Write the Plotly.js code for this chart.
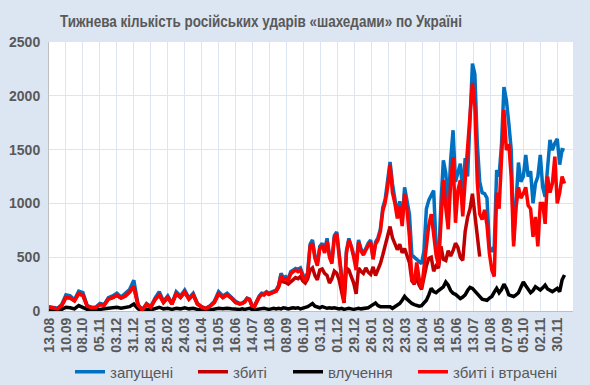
<!DOCTYPE html>
<html><head><meta charset="utf-8">
<script src="https://cdn.plot.ly/plotly-3.0.1.min.js"></script>
<style>html,body{margin:0;padding:0;background:#dce6f2;}</style>
</head><body><div id="chart" style="width:590px;height:385px;"></div>
<script>
// Day offsets from 13.08.2023 (weekly samples, then every 4 days)
const dayOffsets = [];
for (let d = 0; d <= 315; d += 7) dayOffsets.push(d);
for (let d = 319; d <= 851; d += 4) dayOffsets.push(d);

const tickLabels = ['13.08','10.09','08.10','05.11','03.12','31.12','28.01','25.02','24.03','21.04','19.05','16.06','14.07','11.08','08.09','06.10','03.11','01.12','29.12','26.01','23.02','23.03','20.04','18.05','15.06','13.07','10.08','07.09','05.10','02.11','30.11'];

const launched = [
 40,35,25,60,150,140,105,185,170,50, 35,35,70,60,125,140,165,130,160,200,
 285,60,10,70,40,120,180,90,140,70, 180,140,195,120,165,70,40,25,50,90,
 180,140,165,130,90,70,
 75,90,120,110,55,45,100,140,165,160,
 180,165,175,185,195,240,350,310,320,300,
 365,380,395,385,400,340,300,360,620,660,
 510,440,600,630,560,675,520,460,700,735,
 560,330,140,560,675,610,520,440,660,580,
 530,580,630,660,490,640,680,760,960,1040,
 1200,1385,1180,1040,900,1020,820,1150,1000,900,
 520,500,490,470,440,560,950,1030,1070,1120,
 600,440,1000,1400,1280,950,1400,1680,1200,1280,
 1370,1100,1420,1250,1700,2300,2200,1560,1200,1100,
 1090,1050,600,550,600,1310,1250,1550,2080,1960,
 1745,1500,650,1060,1380,1200,1250,1450,1250,1300,
 1000,1185,1250,1450,1150,1060,1350,1590,1495,1560,
 1600,1360,1500,1495
];

const shotDownLost = [
 35,30,20,50,125,120,95,160,145,45, 30,30,60,55,110,125,145,120,140,175,
 225,55,8,60,35,105,150,80,125,65, 160,125,175,110,150,65,35,20,45,80,
 160,125,150,120,80,65,
 70,85,115,105,50,40,95,130,155,150,
 170,155,165,175,185,230,330,295,300,285,
 345,365,380,365,380,320,280,340,600,630,
 490,420,580,610,540,650,500,440,680,720,
 540,300,80,540,660,600,500,380,640,560,
 520,570,610,640,480,620,660,740,930,1010,
 1150,1360,1100,1000,860,970,790,1090,940,690,
 300,260,450,300,210,400,640,800,900,700,
 520,420,870,1215,960,760,1185,1430,820,1120,
 1215,880,1215,1495,1835,2120,1900,1200,900,850,
 940,800,535,380,320,1100,950,1450,1870,1495,
 1550,1250,600,965,1150,1050,1090,1150,980,950,
 690,875,600,1000,1000,810,1250,1100,1185,1435,
 1000,1100,1250,1185
];

const shotDown = [
 35,30,20,50,125,120,95,160,145,45, 30,30,60,55,110,125,145,120,140,175,
 225,55,8,60,35,105,150,80,125,65, 160,125,175,110,150,65,35,20,45,80,
 160,125,150,120,80,65,
 70,85,115,105,50,40,95,130,155,150,
 170,155,165,175,185,220,290,270,265,250,
 270,290,310,300,320,280,260,300,380,400,
 330,290,380,390,350,330,260,300,370,350,
 290,180,75,400,380,320,260,160,400,370,
 350,400,360,340,410,330,380,440,520,620,
 700,785,680,620,570,620,540,580,520,450,
 280,250,320,240,200,330,420,490,500,370,
 420,400,600,480,470,560,510,560,630,590,
 500,470,740,870,950,1090,900,700,505
];

const hits = [
 15,10,5,15,35,30,20,50,35,15, 10,10,15,20,25,30,35,25,30,40,
 65,20,5,15,10,20,35,20,25,15, 25,20,30,20,25,15,10,5,10,15,
 25,20,25,20,15,15,
 20,15,20,25,15,10,15,20,20,25,
 20,15,20,25,20,25,20,30,25,20,
 25,30,25,30,20,25,30,40,55,70,
 45,35,30,40,30,25,30,25,30,25,
 20,25,15,20,25,20,15,20,25,20,
 25,25,30,45,60,75,50,40,40,40,
 40,40,25,40,55,70,100,135,110,85,
 70,60,55,45,50,70,100,150,210,180,
 170,190,205,225,270,240,190,165,155,135,
 115,130,150,190,220,210,185,160,130,110,
 105,100,120,135,175,210,170,200,250,210,
 150,140,135,150,170,220,270,235,200,170,
 190,225,210,195,215,240,205,190,180,195,
 210,180,290,335
];

const DAY = 864e5, T0 = Date.UTC(2023, 7, 13);
const toDate = d => new Date(T0 + d * DAY).toISOString().slice(0, 10);
const dates = dayOffsets.map(toDate);
const tickVals = tickLabels.map((_, i) => toDate(i * 28));

const mk = (name, y, color, lw) => ({
  x: dates.slice(0, y.length), y: y, name: name, type: 'scatter', mode: 'lines',
  line: {color: color, width: 3.5}, hoverinfo: 'skip', legendwidth: lw
});

const traces = [
  mk('запущені', launched, '#0070C0', 78),
  mk('збиті', shotDown, '#C00000', 50),
  mk('влучення', hits, '#000000', 80),
  mk('збиті і втрачені', shotDownLost, '#FF0000', 110)
];

const tickFont = {family: 'Liberation Sans, Arial, sans-serif', size: 14, color: '#595959', weight: 'bold'};

const layout = {
  width: 590, height: 385,
  paper_bgcolor: '#dce6f2', plot_bgcolor: '#ffffff',
  margin: {l: 49, r: 17, t: 42, b: 74},
  title: {
    text: 'Тижнева кількість російських ударів «шахедами» по Україні',
    font: {family: 'Liberation Sans, Arial, sans-serif', size: 17, color: '#595959', weight: 'bold'},
    x: 261 / 590, xanchor: 'center', xref: 'container', y: 1 - 21 / 385, yref: 'container', yanchor: 'middle'
  },
  xaxis: {
    type: 'date', range: ['2023-08-13', '2025-12-25'], automargin: false,
    tickvals: tickVals, ticktext: tickLabels, tickangle: -90, tickfont: tickFont,
    showgrid: true, gridcolor: '#dce6f2', gridwidth: 1,
    showline: true, linecolor: '#bfbfbf', linewidth: 1, ticks: '', zeroline: false
  },
  yaxis: {
    range: [0, 2500], dtick: 500, tickfont: tickFont, automargin: false,
    showgrid: true, gridcolor: '#dce6f2', gridwidth: 1,
    showline: true, linecolor: '#bfbfbf', linewidth: 1, ticks: '', zeroline: false,
    ticklabelstandoff: 5
  },
  legend: {
    orientation: 'h', xref: 'container', yref: 'container',
    x: 70 / 590, xanchor: 'left', y: 1 - 372 / 385, yanchor: 'middle',
    font: {family: 'Liberation Sans, Arial, sans-serif', size: 15, color: '#595959'},
    bgcolor: 'rgba(0,0,0,0)'
  },
  showlegend: true
};

Plotly.newPlot('chart', traces, layout, {displayModeBar: false, staticPlot: true}).then(() => {
  const t = document.querySelector('#chart .gtitle');
  if (t) { t.setAttribute('textLength', '402'); t.setAttribute('lengthAdjust', 'spacingAndGlyphs'); }
});
</script>
</body></html>
